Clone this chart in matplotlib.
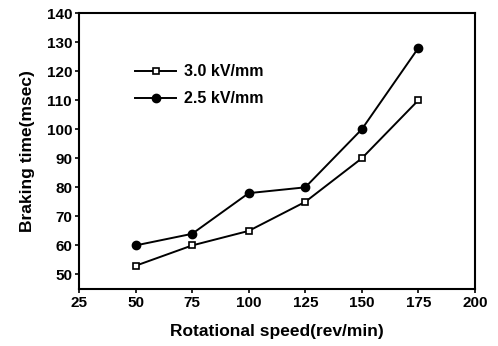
import matplotlib
matplotlib.use("Agg")
import matplotlib.pyplot as plt

speed = [50, 75, 100, 125, 150, 175]
t_30 = [53, 60, 65, 75, 90, 110]
t_25 = [60, 64, 78, 80, 100, 128]
labels = ["3.0 kV/mm", "2.5 kV/mm"]
xticks = [25, 50, 75, 100, 125, 150, 175, 200]
yticks = [50, 60, 70, 80, 90, 100, 110, 120, 130, 140]

plt.rcParams['font.family'] = ['Liberation Sans', 'DejaVu Sans']
plt.rcParams['font.weight'] = 'bold'

fig = plt.figure(figsize=(4.98, 3.46), dpi=100)
ax = fig.add_axes([0.1586, 0.1647, 0.7952, 0.7977])

ax.plot(speed, t_30, color='black', lw=1.4, marker='s', ms=4.5, mfc='white', mec='black', mew=1.2, label=labels[0])
ax.plot(speed, t_25, color='black', lw=1.4, marker='o', ms=6, mfc='black', mec='black', label=labels[1])

ax.set_xlim(25, 200)
ax.set_ylim(45, 140)
ax.set_xticks(xticks)
ax.set_yticks(yticks)
ax.tick_params(direction='out', length=3, width=1.2, labelsize=11, pad=2)
for lab in ax.get_xticklabels() + ax.get_yticklabels():
    lab.set_fontweight('bold')
for s in ax.spines.values():
    s.set_linewidth(1.5)

ax.set_xlabel("Rotational speed(rev/min)", fontsize=12.5, fontweight='bold', labelpad=10)
ax.set_ylabel("Braking time(msec)", fontsize=12.5, fontweight='bold', labelpad=8)

leg = ax.legend(loc='upper left', bbox_to_anchor=(0.125, 0.838), frameon=False,
                fontsize=11.5, handlelength=2.6, handletextpad=0.45, labelspacing=0.75,
                borderaxespad=0)
for t in leg.get_texts():
    t.set_fontweight('bold')

fig.savefig("out.png", dpi=100)
